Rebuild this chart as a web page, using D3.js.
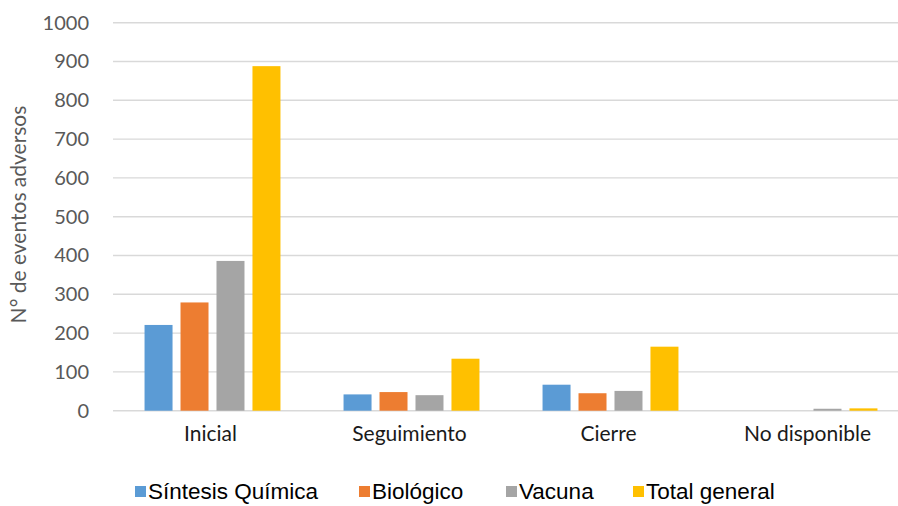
<!DOCTYPE html>
<html>
<head>
<meta charset="utf-8">
<script src="https://cdn.jsdelivr.net/npm/d3@7"></script>
<style>
  html, body { margin: 0; padding: 0; background: #fff; }
  svg { display: block; }
</style>
</head>
<body>
<svg id="chart" width="898" height="506"></svg>
<script>
// Adverse events by reporting stage and product type
const categories = ["Inicial", "Seguimiento", "Cierre", "No disponible"];
const seriesNames = ["Síntesis Química", "Biológico", "Vacuna", "Total general"];
const sintesisQuimica = [221, 42, 67, 0];
const biologico = [279, 48, 45, 0];
const vacuna = [386, 40, 51, 5];
const totalGeneral = [888, 134, 165, 6];
const yTicks = [0, 100, 200, 300, 400, 500, 600, 700, 800, 900, 1000];
const colors = ["#5b9bd5", "#ed7d31", "#a5a5a5", "#ffc000"];

const seriesValues = [sintesisQuimica, biologico, vacuna, totalGeneral];

const svg = d3.select("#chart");
const plot = { left: 113, right: 909, top: 22.7, bottom: 410.7 };
const labelFont = "Lato, 'Open Sans', sans-serif";

const x = d3.scaleBand()
  .domain(categories)
  .range([plot.left, plot.right])
  .paddingInner(0.317)
  .paddingOuter(0.1585);

const xs = d3.scaleBand()
  .domain(seriesNames)
  .range([0, x.bandwidth()])
  .paddingInner(0.222)
  .paddingOuter(0);

const y = d3.scaleLinear()
  .domain([0, 1000])
  .range([plot.bottom, plot.top]);

// Horizontal gridlines
svg.append("g")
  .selectAll("line")
  .data(yTicks)
  .join("line")
  .attr("x1", plot.left)
  .attr("x2", plot.right)
  .attr("y1", d => y(d))
  .attr("y2", d => y(d))
  .attr("stroke", "#d9d9d9")
  .attr("stroke-width", 1.4);

// Y axis tick labels
const yAxis = d3.axisLeft(y).tickValues(yTicks).tickFormat(d3.format("d")).tickSize(0).tickPadding(24);
const yg = svg.append("g").attr("transform", `translate(${plot.left},0)`).call(yAxis);
yg.select(".domain").remove();
yg.selectAll("text")
  .attr("font-family", labelFont)
  .attr("font-size", 20)
  .attr("fill", "#595959");

// X axis category labels
const xAxis = d3.axisBottom(x).tickSize(0).tickPadding(15);
const xg = svg.append("g").attr("transform", `translate(-2,${plot.bottom})`).call(xAxis);
xg.select(".domain").remove();
xg.selectAll("text")
  .attr("font-family", labelFont)
  .attr("font-size", 21)
  .attr("fill", "#1a1a1a");

// Bars
const groups = svg.append("g")
  .selectAll("g")
  .data(categories)
  .join("g")
  .attr("transform", d => `translate(${x(d)},0)`);

groups.selectAll("rect")
  .data((c, ci) => seriesNames.map((s, si) => ({ s, si, v: seriesValues[si][ci] })))
  .join("rect")
  .attr("x", d => xs(d.s))
  .attr("width", xs.bandwidth())
  .attr("y", d => y(d.v))
  .attr("height", d => y(0) - y(d.v))
  .attr("fill", d => colors[d.si]);

// Y axis title
svg.append("text")
  .attr("transform", "translate(26,214.5) rotate(-90)")
  .attr("text-anchor", "middle")
  .attr("font-family", labelFont)
  .attr("font-size", 21)
  .attr("fill", "#595959")
  .text("N° de eventos adversos");

// Legend
const legendX = [135, 359, 506, 633];
const legend = svg.append("g")
  .selectAll("g")
  .data(seriesNames)
  .join("g")
  .attr("transform", (d, i) => `translate(${legendX[i]},486)`);

legend.append("rect")
  .attr("x", 0)
  .attr("y", 0)
  .attr("width", 11)
  .attr("height", 11)
  .attr("fill", (d, i) => colors[i]);

legend.append("text")
  .attr("x", 13)
  .attr("y", 13)
  .attr("font-family", "'Liberation Sans', Arial, sans-serif")
  .attr("font-size", 22.5)
  .attr("fill", "#000")
  .text(d => d);
</script>
</body>
</html>
